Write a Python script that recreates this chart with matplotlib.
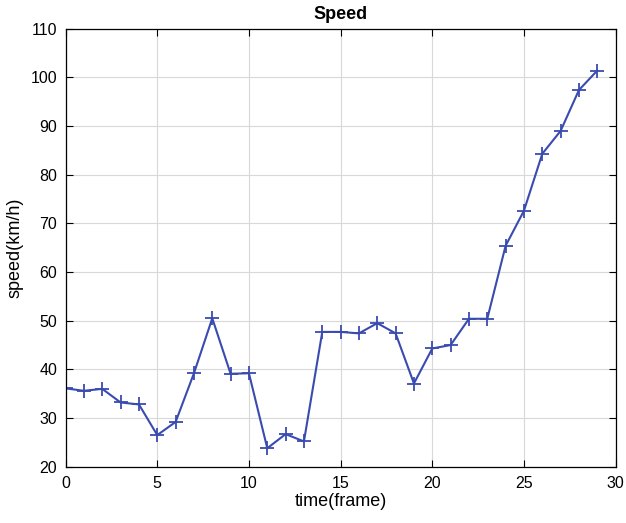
import matplotlib
matplotlib.use("Agg")
import matplotlib.pyplot as plt

plt.rcParams['font.family'] = ['Liberation Sans', 'DejaVu Sans']

# frame index and speed values
frames = list(range(30))
speed = [36.1, 35.6, 36.0, 33.2, 32.8, 26.5, 29.2, 39.2, 50.5, 39.1,
         39.2, 23.8, 26.7, 25.2, 47.7, 47.7, 47.4, 49.5, 47.4, 37.1,
         44.3, 45.0, 50.4, 50.4, 65.4, 72.6, 84.3, 89.0, 97.4, 101.4]

xticks = [0, 5, 10, 15, 20, 25, 30]
yticks = [20, 30, 40, 50, 60, 70, 80, 90, 100, 110]

fig = plt.figure(figsize=(6.26, 5.23), dpi=100)
ax = fig.add_axes([0.1048, 0.1076, 0.8786, 0.8375])

ax.plot(frames, speed, color='#3a4bb0', lw=1.5, marker='+', ms=10, mew=1.3)

ax.set_xlim(0, 30)
ax.set_ylim(20, 110)
ax.set_xticks(xticks)
ax.set_yticks(yticks)
ax.grid(True, color='#d8d8d8', lw=0.8)
ax.set_axisbelow(True)
ax.tick_params(direction='in', top=True, right=True, labelsize=11.5, length=5, width=0.8)
ax.tick_params(axis='x', pad=7)
ax.tick_params(axis='y', pad=6)
for s in ax.spines.values():
    s.set_linewidth(0.9)

ax.set_title('Speed', fontsize=13, fontweight='bold', pad=7)
ax.set_xlabel('time(frame)', fontsize=13, labelpad=1)
ax.set_ylabel('speed(km/h)', fontsize=13, labelpad=5)

fig.savefig('out.png', dpi=100)
